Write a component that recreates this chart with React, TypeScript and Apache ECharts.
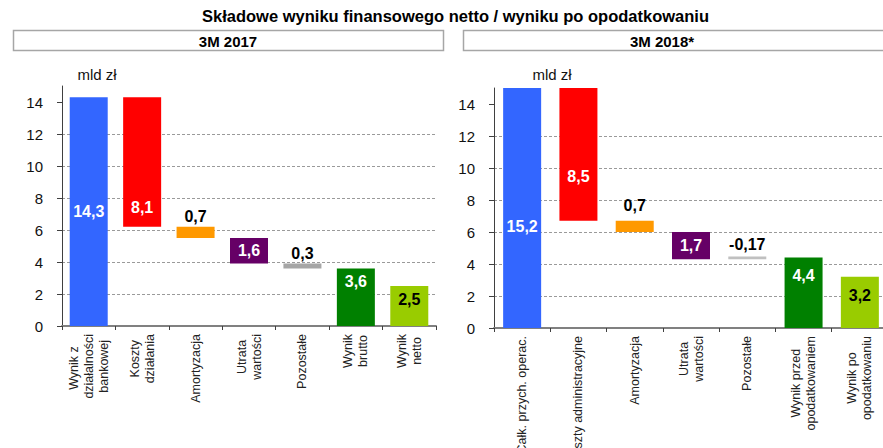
import React, { useEffect, useRef } from 'react';
import * as echarts from 'echarts';

const FONT = '"Liberation Sans", Arial, sans-serif';

const titleText = 'Składowe wyniku finansowego netto / wyniku po opodatkowaniu';
const panelTitles = ['3M 2017', '3M 2018*'];
const unitLabel = 'mld zł';

const categories2017 = [
  'Wynik z \ndziałalności\nbankowej',
  'Koszty\ndziałania',
  'Amortyzacja',
  'Utrata\nwartości',
  'Pozostałe',
  'Wynik\nbrutto',
  'Wynik\nnetto',
];
const categories2018 = [
  'Całk. przych. operac.',
  'Koszty administracyjne',
  'Amortyzacja',
  'Utrata\nwartości',
  'Pozostałe',
  'Wynik przed\nopodatkowaniem',
  'Wynik po\nopodatkowaniu',
];

const values2017 = [14.3, 8.1, 0.7, 1.6, 0.3, 3.6, 2.5];
const values2018 = [15.2, 8.5, 0.7, 1.7, -0.17, 4.4, 3.2];
// 'total' bars start at zero, 'delta' bars hang from the running total
const barKinds = ['total', 'delta', 'delta', 'delta', 'delta', 'total', 'total'];
const yTicks = [0, 2, 4, 6, 8, 10, 12, 14];

const colors2017 = ['#3366FF', '#FF0000', '#FF9900', '#660066', '#A6A6A6', '#008000', '#99CC00'];
const colors2018 = ['#3366FF', '#FF0000', '#FF9900', '#660066', '#C0C0C0', '#008000', '#99CC00'];

// label placement styles: [position, distance, colour]
const labelStyle2017: [string, number, string][] = [
  ['inside', 0, '#fff'],
  ['insideBottom', 11, '#fff'],
  ['top', 2, '#000'],
  ['inside', 0, '#fff'],
  ['top', 2, '#000'],
  ['insideTop', 5, '#fff'],
  ['insideTop', 5, '#000'],
];
const labelStyle2018: [string, number, string][] = [
  ['insideBottom', 94, '#fff'],
  ['insideBottom', 36, '#fff'],
  ['top', 7, '#000'],
  ['inside', 0, '#fff'],
  ['top', 4, '#000'],
  ['insideTop', 10, '#fff'],
  ['insideTop', 11, '#000'],
];

function waterfall(values: number[]) {
  const bases: number[] = [];
  const heights: number[] = [];
  let running = 0;
  values.forEach((v, i) => {
    if (barKinds[i] === 'total') {
      bases.push(0);
      heights.push(v);
      running = v;
    } else {
      const next = running - v;
      bases.push(Math.min(running, next));
      heights.push(Math.abs(v));
      running = next;
    }
  });
  return { bases, heights };
}

const fmt = (v: number) => String(v).replace('.', ',');

function buildPanel(
  gridIndex: number,
  categories: string[],
  values: number[],
  colors: string[],
  labelStyles: [string, number, string][]
) {
  const { bases, heights } = waterfall(values);
  const xAxis = {
    type: 'category',
    gridIndex,
    data: categories,
    axisLine: { show: true, lineStyle: { color: '#808080', width: 2 } },
    axisTick: { show: true, length: 4, lineStyle: { color: '#404040', width: 1 } },
    axisLabel: {
      interval: 0,
      rotate: 90,
      margin: 8,
      color: '#222',
      fontFamily: FONT,
      fontSize: 12.5,
      formatter: (s: string) => s.split('\n').map((l) => `{c|${l}}`).join('\n'),
      rich: { c: { align: 'center', fontSize: 12.5, lineHeight: 15, fontFamily: FONT, color: '#222' } },
    },
  };
  const yAxis = {
    type: 'value',
    gridIndex,
    min: 0,
    max: 15,
    interval: 2,
    axisLine: { show: true, lineStyle: { color: '#404040', width: 1 } },
    axisTick: { show: true, length: 5, lineStyle: { color: '#404040' }, customValues: yTicks },
    axisLabel: { fontSize: 15, color: '#111', margin: 19, fontFamily: FONT, customValues: yTicks },
    splitLine: {
      show: true,
      showMinLine: false,
      showMaxLine: false,
      lineStyle: { color: '#9a9a9a', type: [3, 2], width: 1 },
    },
  };
  const series = [
    {
      type: 'bar',
      xAxisIndex: gridIndex,
      yAxisIndex: gridIndex,
      stack: 'wf' + gridIndex,
      barWidth: 38,
      silent: true,
      itemStyle: { color: 'transparent' },
      data: bases,
    },
    {
      type: 'bar',
      xAxisIndex: gridIndex,
      yAxisIndex: gridIndex,
      stack: 'wf' + gridIndex,
      barWidth: 38,
      clip: true,
      data: heights.map((h, i) => ({
        value: h,
        itemStyle: { color: colors[i] },
        label: {
          show: true,
          position: labelStyles[i][0],
          distance: labelStyles[i][1],
          color: labelStyles[i][2],
          fontSize: 16,
          fontWeight: 'bold',
          fontFamily: FONT,
          textBorderWidth: 0,
          formatter: () => fmt(values[i]),
        },
      })),
    },
  ];
  return { xAxis, yAxis, series };
}

export default function App() {
  const ref = useRef<HTMLDivElement>(null);
  useEffect(() => {
    if (!ref.current) return;
    const chart = echarts.init(ref.current, undefined, { renderer: 'svg' });
    const p1 = buildPanel(0, categories2017, values2017, colors2017, labelStyle2017);
    const p2 = buildPanel(1, categories2018, values2018, colors2018, labelStyle2018);
    chart.setOption({
      animation: false,
      textStyle: { fontFamily: FONT },
      grid: [
        { left: 62, top: 86, width: 374, height: 240, containLabel: false, outerBoundsMode: 'none' },
        { left: 494, top: 88, width: 394, height: 240, containLabel: false, outerBoundsMode: 'none' },
      ],
      xAxis: [p1.xAxis, p2.xAxis],
      yAxis: [p1.yAxis, p2.yAxis],
      series: [...p1.series, ...p2.series],
      graphic: [
        {
          type: 'text',
          x: 455.5,
          y: 16,
          style: {
            text: titleText,
            font: `bold 16.5px ${FONT}`,
            fill: '#000',
            align: 'center',
            verticalAlign: 'middle',
          },
        },
        {
          type: 'rect',
          shape: { x: 13.5, y: 30.5, width: 430, height: 20 },
          style: { fill: '#fff', stroke: '#a6a6a6', lineWidth: 1.5 },
        },
        {
          type: 'text',
          x: 228,
          y: 41,
          style: { text: panelTitles[0], font: `bold 15px ${FONT}`, fill: '#000', align: 'center', verticalAlign: 'middle' },
        },
        {
          type: 'rect',
          shape: { x: 463.5, y: 30.5, width: 440, height: 20 },
          style: { fill: '#fff', stroke: '#a6a6a6', lineWidth: 1.5 },
        },
        {
          type: 'text',
          x: 662,
          y: 41,
          style: { text: panelTitles[1], font: `bold 15px ${FONT}`, fill: '#000', align: 'center', verticalAlign: 'middle' },
        },
        {
          type: 'text',
          x: 97,
          y: 74,
          style: { text: unitLabel, font: `15px ${FONT}`, fill: '#111', align: 'center', verticalAlign: 'middle' },
        },
        {
          type: 'text',
          x: 552,
          y: 74,
          style: { text: unitLabel, font: `15px ${FONT}`, fill: '#111', align: 'center', verticalAlign: 'middle' },
        },
      ],
    });
    return () => chart.dispose();
  }, []);
  return (
    <div style={{ position: 'fixed', left: 0, top: 0, width: 883, height: 448, overflow: 'hidden', background: '#fff' }}>
      <div ref={ref} style={{ width: 900, height: 448 }} />
    </div>
  );
}
